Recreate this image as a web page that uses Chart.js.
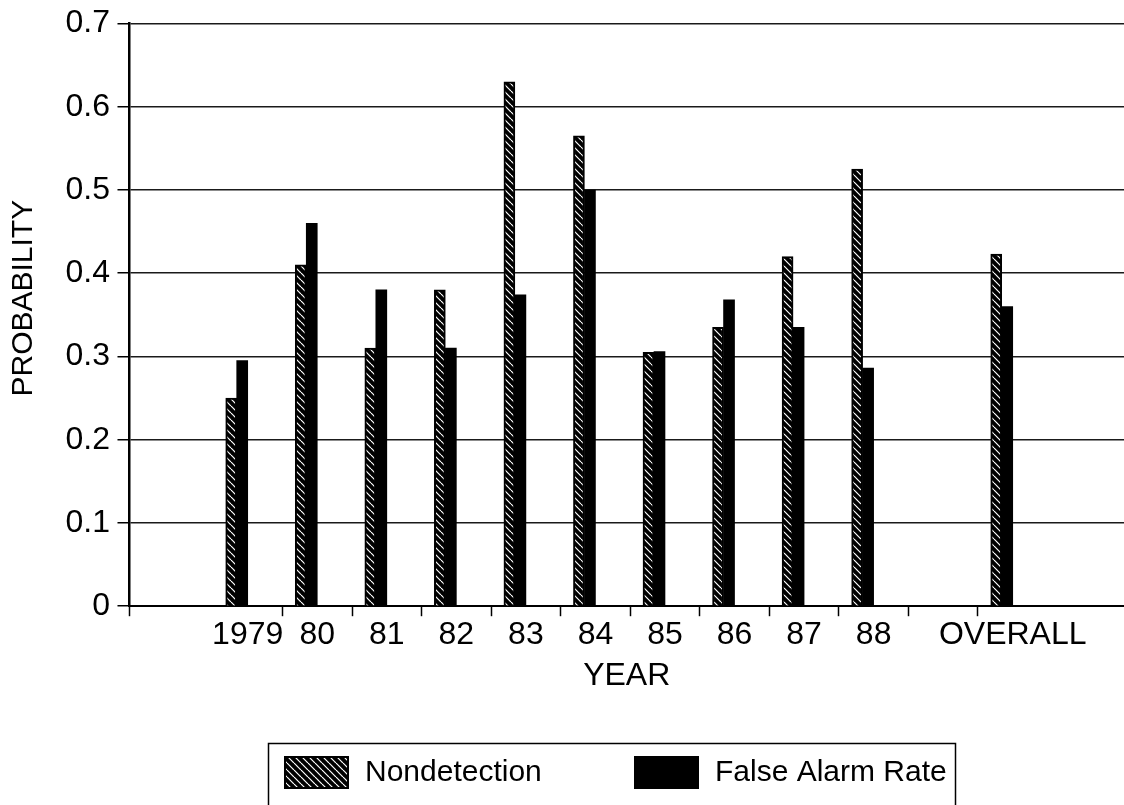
<!DOCTYPE html>
<html>
<head>
<meta charset="utf-8">
<title>Nondetection and False Alarm Rate by Year</title>
<script src="https://cdn.jsdelivr.net/npm/chart.js@4.4.1/dist/chart.umd.min.js"></script>
<style>
  html, body { margin: 0; padding: 0; background: #fff; overflow: hidden; }
  #wrap { position: relative; width: 1124px; height: 805px; }
</style>
</head>
<body>
<div id="wrap"><canvas id="chart"></canvas></div>
<script>
// category slots along the x axis ('' = empty slot)
const CATEGORIES   = ['', '1979', '80', '81', '82', '83', '84', '85', '86', '87', '88', '', 'OVERALL'];
const NONDETECTION = [null, 0.25, 0.41, 0.31, 0.38, 0.63, 0.565, 0.305, 0.335, 0.42, 0.525, null, 0.423];
const FALSE_ALARM  = [null, 0.295, 0.46, 0.38, 0.31, 0.374, 0.50, 0.306, 0.368, 0.335, 0.286, null, 0.36];
const Y_TICKS      = [0, 0.1, 0.2, 0.3, 0.4, 0.5, 0.6, 0.7];
const X_MIN = -0.7, X_MAX = 13.6;

Chart.defaults.font.family = '"Liberation Sans", Arial, sans-serif';
Chart.defaults.color = '#000';

/* -------- hatch pattern: black with white "\" strokes -------- */
function hatch() {
  const s = 7, c = document.createElement('canvas');
  c.width = s; c.height = s;
  const g = c.getContext('2d');
  g.fillStyle = '#000'; g.fillRect(0, 0, s, s);
  g.strokeStyle = '#fff'; g.lineWidth = 1.2;
  for (const k of [-s, 0, s]) { g.beginPath(); g.moveTo(k, 0); g.lineTo(k + s, s); g.stroke(); }
  return g.createPattern(c, 'repeat');
}
const HATCH = hatch();

const points = (vals) => CATEGORIES.map((c, i) => ({ x: i, y: vals[i] })).filter(p => p.y !== null);

// tick marks: axis start + boundaries between the used slots; labels in slot centres
const firstUsed = CATEGORIES.findIndex(c => c !== '');
const lastUsed = CATEGORIES.length - 1;
const X_TICKS = [X_MIN];
CATEGORIES.forEach((c, i) => { if (c !== '') X_TICKS.push(i); });
for (let i = firstUsed; i < lastUsed; i++) X_TICKS.push(i + 0.5);
X_TICKS.sort((a, b) => a - b);

/* -------- framed legend under the chart -------- */
const boxLegend = {
  id: 'boxLegend',
  afterDraw(chart) {
    const ctx = chart.ctx;
    const items = chart.data.datasets.filter(d => d.label);
    const sw = [284, 634], tx = [365, 715];
    ctx.save();
    ctx.strokeStyle = '#000'; ctx.lineWidth = 1.5;
    ctx.strokeRect(268.5, 743.5, 687, 120);
    items.forEach((ds, i) => {
      ctx.fillStyle = '#000';
      ctx.fillRect(sw[i], 756, 65, 33);
      if (ds.backgroundColor !== '#000') {
        ctx.fillStyle = ds.backgroundColor;
        ctx.fillRect(sw[i] + 2, 758, 61, 29);
      }
      ctx.fillStyle = '#000';
      ctx.font = '30px "Liberation Sans", Arial, sans-serif';
      ctx.textBaseline = 'middle';
      ctx.fillText(ds.label, tx[i], 773);
    });
    ctx.restore();
  }
};

new Chart(document.getElementById('chart'), {
  type: 'bar',
  data: {
    datasets: [
      { label: 'Nondetection', data: points(NONDETECTION), backgroundColor: HATCH, borderColor: '#000', borderWidth: 2, borderSkipped: 'bottom' },
      { label: 'False Alarm Rate', data: points(FALSE_ALARM), backgroundColor: '#000', borderWidth: 0 },
      // empty spacers: push each pair to the left part of its slot
      { label: '', data: [] },
      { label: '', data: [] }
    ]
  },
  options: {
    responsive: true, maintainAspectRatio: false, animation: false,
    layout: { padding: { top: 0, right: 0, bottom: 110, left: 0 } },
    datasets: { bar: { barThickness: 11, grouped: true } },
    plugins: { legend: { display: false }, tooltip: { enabled: false } },
    scales: {
      x: {
        type: 'linear', min: X_MIN, max: X_MAX, offset: false,
        afterBuildTicks: (s) => { s.ticks = X_TICKS.map(v => ({ value: v })); },
        ticks: {
          autoSkip: false, maxRotation: 0, minRotation: 0, padding: 0,
          font: { size: 32 },
          callback: (v) => Number.isInteger(v) ? CATEGORIES[v] : ''
        },
        grid: {
          offset: false, drawOnChartArea: false, drawTicks: true, tickLength: 10, tickWidth: 1.5,
          tickColor: (ctx) => (ctx.tick && Number.isInteger(ctx.tick.value)) ? 'rgba(0,0,0,0)' : '#000'
        },
        border: { display: true, color: '#000', width: 2 },
        title: { display: true, text: 'YEAR', font: { size: 32 }, padding: { top: 2, bottom: 0 } }
      },
      y: {
        min: 0, max: 0.7,
        afterBuildTicks: (s) => { s.ticks = Y_TICKS.map(v => ({ value: v })); },
        ticks: {
          padding: 7.5, font: { size: 32, lineHeight: 1.0 },
          callback: (v) => v === 0 ? '0' : v.toFixed(1)
        },
        grid: { color: '#1a1a1a', lineWidth: 1.5, tickLength: 12, tickColor: '#000' },
        border: { display: true, color: '#000', width: 2.5 },
        title: { display: true, text: '    PROBABILITY', font: { size: 30 }, padding: { top: 6, bottom: 16 } }
      }
    }
  },
  plugins: [boxLegend]
});
</script>
</body>
</html>
